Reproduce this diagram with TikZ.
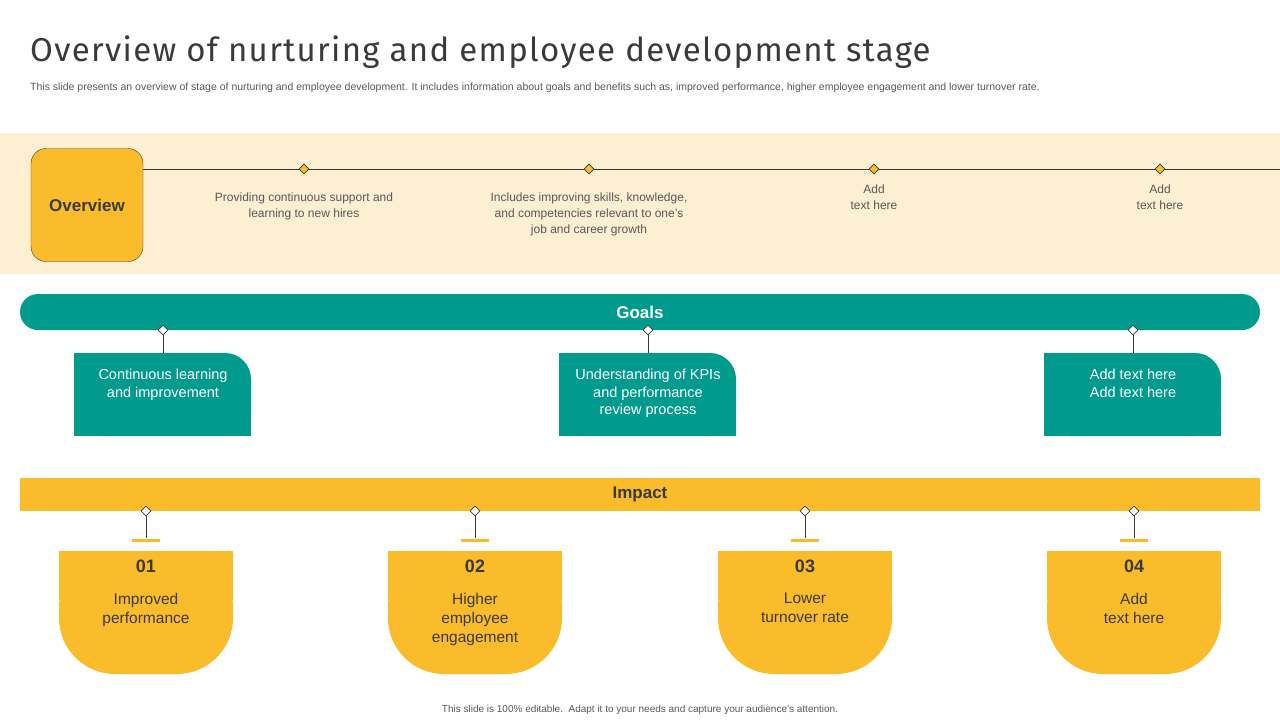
\documentclass[tikz,border=0pt]{standalone}
\usepackage{fontspec}
\setmainfont{Liberation Sans}
\newfontfamily\titlefont{Fira Sans}
\usetikzlibrary{shapes.geometric,positioning}
\definecolor{cTeal}{HTML}{009B8D}
\definecolor{cGold}{HTML}{FBBC2B}
\definecolor{cCream}{HTML}{FCEFD2}
\definecolor{cInk}{HTML}{3A3A3A}
\definecolor{cGrey}{HTML}{595959}
\tikzset{
  every node/.append style={inner sep=0pt},
  gem/.style={diamond, draw=cInk, line width=0.6pt, minimum size=10pt},
  stem/.style={draw=cInk, line width=0.8pt},
  note/.style={align=center, text=cGrey, font=\fontsize{12}{16}\selectfont},
}
\begin{document}
\begin{tikzpicture}[x=1pt,y=-1pt]
\useasboundingbox (0,0) rectangle (1280,720);

% heading
\node[anchor=base west, text=cInk, font=\titlefont\fontsize{33}{36}\selectfont\addfontfeatures{LetterSpace=4}] (title) at (30,61) {Overview of nurturing and employee development stage};
\node[anchor=base west, text=cGrey, font=\fontsize{10.5}{12}\selectfont] (sub) at (30,90) {This slide presents an overview of stage of nurturing and employee development. It includes information about goals and benefits such as, improved performance, higher employee engagement and lower turnover rate.};

% overview band
\fill[cCream] (0,133) rectangle (1280,274);
\node[draw=cInk, fill=cGold, rounded corners=15, minimum width=112, minimum height=113, font=\bfseries\fontsize{17}{20}\selectfont, text=cInk] (overview) at (87,205) {Overview};
\coordinate (lineend) at (1280,169);
\draw[cInk, line width=0.6pt] (overview.east |- lineend) -- (lineend);
\foreach \x/\t [count=\i] in {304/{Providing continuous support and\\learning to new hires},
    589/{Includes improving skills, knowledge,\\and competencies relevant to one's\\job and career growth},
    874/{Add\\text here}, 1160/{Add\\text here}}{
  \node[gem, fill=cGold] (od\i) at (\x,169) {};
  \node[note, anchor=north] (ot\i) at (\x,\ifnum\i>2 185\else 193\fi) {\t};
}

% goals
\node[fill=cTeal, rounded corners=18, minimum width=1240, minimum height=36, text=white, font=\bfseries\fontsize{17}{20}\selectfont] (goals) at (640,312) {Goals};
\foreach \x/\t [count=\i] in {163/{Continuous learning\\and improvement},
    648/{Understanding of KPIs\\and performance\\review process},
    1133/{Add text here\\Add text here}}{
  \fill[cTeal, rounded corners=26] (\x-89,353) rectangle (\x+88,436);
  \fill[cTeal] (\x-89,353) rectangle (\x+58,436);
  \fill[cTeal] (\x-89,383) rectangle (\x+88,436);
  \node[align=center, text=white, anchor=north, font=\fontsize{14.5}{17.5}\selectfont] (gt\i) at (\x,369) {\t};
  \coordinate (gb\i) at (\x,353);
  \node[gem, fill=white] (gd\i) at (\x,330) {};
  \draw[stem] (gd\i) -- (gb\i);
}

% impact
\node[fill=cGold, minimum width=1240, minimum height=33, text=cInk, font=\bfseries\fontsize{17}{20}\selectfont] (impact) at (640,494.5) {Impact};
\foreach \x/\t [count=\i] in {146/{Improved\\performance}, 475/{Higher\\employee\\engagement},
    805/{Lower\\turnover rate}, 1134/{Add\\text here}}{
  \fill[cGold, rounded corners=56] (\x-87,551) rectangle (\x+87,674);
  \fill[cGold] (\x-87,551) rectangle (\x+87,600);
  \node[anchor=north, text=cInk, font=\bfseries\fontsize{18}{20}\selectfont] (inum\i) at (\x,560) {0\i};
  \node[align=center, anchor=north, text=cInk, font=\fontsize{15.5}{19}\selectfont] (it\i) at (\x,593) {\t};
  \node[fill=cGold, minimum width=28, minimum height=3] (ib\i) at (\x,540) {};
  \node[gem, fill=white] (id\i) at (\x,511) {};
  \draw[stem] (id\i) -- (ib\i);
}

\node[text=cGrey, font=\fontsize{10}{12}\selectfont] (foot) at (640,710) {This slide is 100\% editable.\ \ Adapt it to your needs and capture your audience's attention.};
\end{tikzpicture}
\end{document}
